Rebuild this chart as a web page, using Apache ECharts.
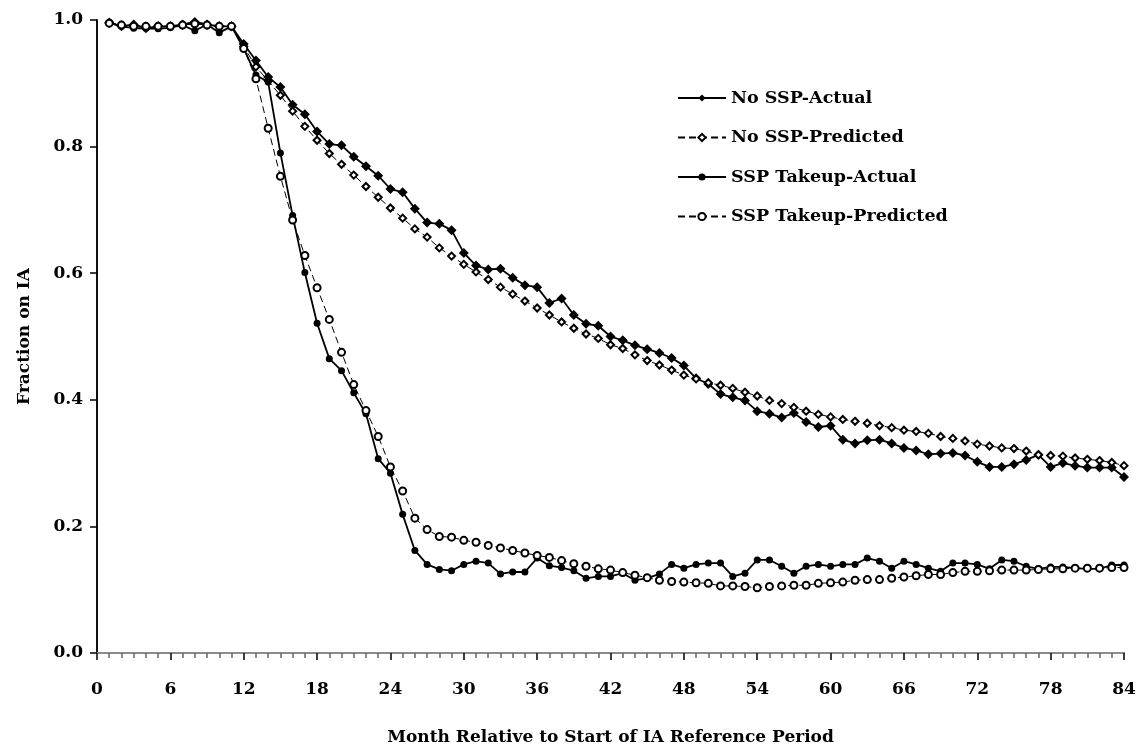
<!DOCTYPE html>
<html>
<head>
<meta charset="utf-8">
<script src="https://cdn.jsdelivr.net/npm/echarts@6/dist/echarts.min.js"></script>
<style>
  html, body { margin: 0; padding: 0; background: #fff; }
  #chart { width: 1143px; height: 751px; }
</style>
</head>
<body>
<div id="chart"></div>
<script>
// months since start of IA reference period
const months = [1, 2, 3, 4, 5, 6, 7, 8, 9, 10, 11, 12, 13, 14, 15, 16, 17, 18, 19, 20, 21,
  22, 23, 24, 25, 26, 27, 28, 29, 30, 31, 32, 33, 34, 35, 36, 37, 38, 39, 40, 41, 42,
  43, 44, 45, 46, 47, 48, 49, 50, 51, 52, 53, 54, 55, 56, 57, 58, 59, 60, 61, 62, 63,
  64, 65, 66, 67, 68, 69, 70, 71, 72, 73, 74, 75, 76, 77, 78, 79, 80, 81, 82, 83, 84];

const noSspActual = [0.996, 0.990, 0.993, 0.987, 0.990, 0.990, 0.993, 0.997, 0.993, 0.990, 0.990,
  0.962, 0.936, 0.910, 0.894, 0.866, 0.851, 0.824, 0.804, 0.802, 0.784, 0.769, 0.754, 0.733,
  0.728, 0.702, 0.680, 0.678, 0.668, 0.632, 0.612, 0.606, 0.607, 0.593, 0.581, 0.578, 0.553,
  0.560, 0.534, 0.520, 0.517, 0.500, 0.494, 0.486, 0.480, 0.474, 0.466, 0.454, 0.434, 0.425,
  0.409, 0.404, 0.399, 0.382, 0.378, 0.372, 0.379, 0.365, 0.357, 0.359, 0.337, 0.331, 0.336,
  0.337, 0.331, 0.324, 0.320, 0.314, 0.315, 0.316, 0.312, 0.302, 0.294, 0.294, 0.298, 0.305,
  0.313, 0.294, 0.300, 0.296, 0.293, 0.293, 0.293, 0.278];

const noSspPredicted = [0.995, 0.992, 0.991, 0.990, 0.990, 0.990, 0.992, 0.994, 0.992, 0.990, 0.990,
  0.958, 0.926, 0.904, 0.881, 0.856, 0.832, 0.810, 0.789, 0.772, 0.755, 0.737, 0.720, 0.703,
  0.687, 0.670, 0.657, 0.640, 0.627, 0.614, 0.602, 0.590, 0.578, 0.567, 0.556, 0.545, 0.534,
  0.523, 0.513, 0.504, 0.497, 0.487, 0.481, 0.471, 0.462, 0.455, 0.447, 0.439, 0.433, 0.427,
  0.423, 0.418, 0.412, 0.406, 0.399, 0.394, 0.388, 0.382, 0.377, 0.373, 0.369, 0.366, 0.363,
  0.359, 0.356, 0.352, 0.350, 0.347, 0.342, 0.339, 0.335, 0.330, 0.327, 0.324, 0.323, 0.319,
  0.313, 0.312, 0.311, 0.308, 0.306, 0.304, 0.301, 0.296];

const sspActual = [0.996, 0.990, 0.987, 0.987, 0.986, 0.988, 0.992, 0.983, 0.993, 0.980, 0.990,
  0.955, 0.913, 0.902, 0.790, 0.691, 0.601, 0.521, 0.465, 0.446, 0.411, 0.378, 0.307, 0.284,
  0.219, 0.162, 0.140, 0.132, 0.130, 0.140, 0.145, 0.142, 0.125, 0.128, 0.128, 0.150, 0.138,
  0.135, 0.130, 0.118, 0.121, 0.121, 0.126, 0.115, 0.118, 0.125, 0.140, 0.134, 0.140, 0.142,
  0.142, 0.121, 0.126, 0.147, 0.147, 0.137, 0.126, 0.137, 0.140, 0.137, 0.140, 0.140, 0.150,
  0.145, 0.134, 0.145, 0.140, 0.134, 0.129, 0.142, 0.142, 0.140, 0.133, 0.147, 0.145, 0.137,
  0.133, 0.136, 0.136, 0.134, 0.133, 0.133, 0.139, 0.139];

const sspPredicted = [0.995, 0.992, 0.990, 0.990, 0.990, 0.990, 0.992, 0.994, 0.992, 0.990, 0.990,
  0.955, 0.907, 0.829, 0.753, 0.684, 0.628, 0.577, 0.527, 0.475, 0.424, 0.383, 0.342, 0.294,
  0.256, 0.213, 0.195, 0.184, 0.183, 0.178, 0.175, 0.170, 0.166, 0.162, 0.158, 0.154, 0.151,
  0.146, 0.141, 0.137, 0.133, 0.131, 0.127, 0.123, 0.119, 0.115, 0.113, 0.112, 0.111, 0.110,
  0.106, 0.106, 0.105, 0.103, 0.105, 0.106, 0.107, 0.107, 0.110, 0.111, 0.112, 0.115, 0.116,
  0.116, 0.118, 0.120, 0.122, 0.124, 0.124, 0.127, 0.129, 0.129, 0.130, 0.131, 0.131, 0.131,
  0.132, 0.133, 0.133, 0.134, 0.134, 0.134, 0.135, 0.135];

const seriesNames = ["No SSP-Actual", "No SSP-Predicted", "SSP Takeup-Actual", "SSP Takeup-Predicted"];

const FONT = "DejaVu Serif";

const pair = (vals) => months.map((m, i) => [m, vals[i]]);

const chart = echarts.init(document.getElementById("chart"));

const solid = { color: "#000", width: 1.8, type: "solid" };
const dashed = { color: "#000", width: 1, type: [7, 4] };
const boldText = { fontFamily: FONT, fontWeight: "bold", fontSize: 17, color: "#000" };

const option = {
  animation: false,
  backgroundColor: "#fff",
  grid: {
    left: 97,
    right: 19,
    top: 20,
    bottom: 98,
  },
  legend: {
    orient: "vertical",
    left: 672,
    top: 83,
    itemWidth: 48,
    itemHeight: 9,
    itemGap: 19.5,
    data: seriesNames,
    textStyle: Object.assign({ lineHeight: 20 }, boldText, { fontSize: 17.5 }),
  },
  xAxis: [
    {
      type: "value",
      min: 0,
      max: 84,
      interval: 6,
      name: "Month Relative to Start of IA Reference Period",
      nameLocation: "middle",
      nameGap: 76,
      nameTextStyle: boldText,
      axisLine: { show: true, lineStyle: { color: "#000", width: 1.5 } },
      axisTick: { show: true, length: 7, lineStyle: { color: "#000", width: 1.5 } },
      minorTick: { show: true, splitNumber: 6, length: 5, lineStyle: { color: "#666", width: 1.5 } },
      splitLine: { show: false },
      axisLabel: Object.assign({ margin: 28 }, boldText),
    },
    {
      // grey frame line along the top of the plot
      type: "value",
      min: 0,
      max: 84,
      position: "top",
      axisLine: { show: true, lineStyle: { color: "#8c8c8c", width: 2 } },
      axisTick: { show: false },
      axisLabel: { show: false },
      splitLine: { show: false },
    },
  ],
  yAxis: [
    {
      type: "value",
      min: 0,
      max: 1,
      interval: 0.2,
      name: "Fraction on IA",
      nameLocation: "middle",
      nameRotate: 90,
      nameGap: 64,
      nameTextStyle: boldText,
      axisLine: { show: true, lineStyle: { color: "#000", width: 1.5 } },
      axisTick: { show: true, length: 7, lineStyle: { color: "#000", width: 1.5 } },
      splitLine: { show: false },
      axisLabel: Object.assign({ margin: 14, formatter: (v) => v.toFixed(1) }, boldText),
    },
    {
      type: "value",
      min: 0,
      max: 1,
      position: "right",
      axisLine: { show: true, lineStyle: { color: "#000", width: 1.5 } },
      axisTick: { show: false },
      axisLabel: { show: false },
      splitLine: { show: false },
    },
  ],
  series: [
    {
      name: seriesNames[0],
      type: "line",
      data: pair(noSspActual),
      symbol: "diamond",
      symbolSize: 10,
      itemStyle: { color: "#000" },
      lineStyle: solid,
    },
    {
      name: seriesNames[1],
      type: "line",
      data: pair(noSspPredicted),
      symbol: "emptyDiamond",
      symbolSize: 7,
      itemStyle: { color: "#000", borderColor: "#000", borderWidth: 1.5 },
      lineStyle: dashed,
    },
    {
      name: seriesNames[2],
      type: "line",
      data: pair(sspActual),
      symbol: "circle",
      symbolSize: 7,
      itemStyle: { color: "#000" },
      lineStyle: solid,
    },
    {
      name: seriesNames[3],
      type: "line",
      data: pair(sspPredicted),
      symbol: "emptyCircle",
      symbolSize: 7,
      itemStyle: { color: "#000", borderColor: "#000", borderWidth: 1.5 },
      lineStyle: dashed,
    },
  ],
};

chart.setOption(option);
window.addEventListener("resize", () => chart.resize());
</script>
</body>
</html>
